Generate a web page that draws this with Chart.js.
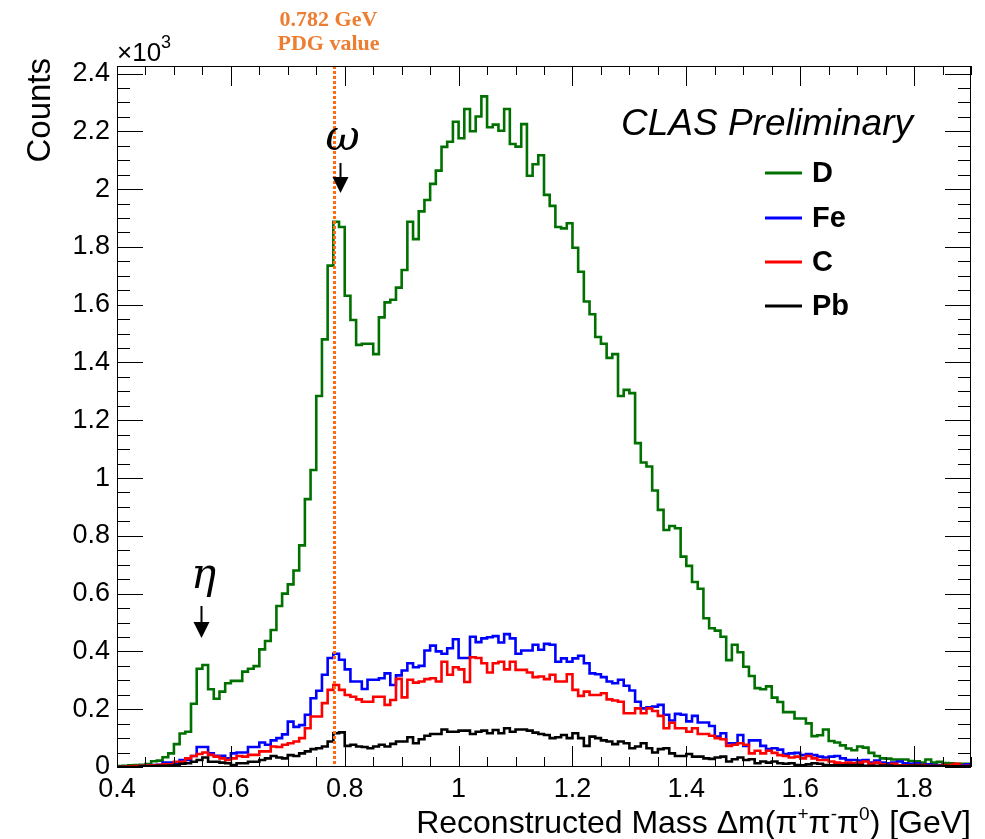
<!DOCTYPE html>
<html>
<head>
<meta charset="utf-8">
<title>Reconstructed mass of pi+ pi- pi0</title>
<script src="https://cdn.jsdelivr.net/npm/chart.js@4.4.0/dist/chart.umd.min.js"></script>
<style>
  html, body { margin: 0; padding: 0; background: #ffffff; }
  canvas { display: block; }
</style>
</head>
<body>
<canvas id="massChart" width="985" height="839"></canvas>
<script>
// Histogram binning: 150 bins of 10 MeV from 0.40 to 1.90 GeV
const binStart = 0.40;
const binWidth = 0.01;

// Counts per bin for each target
const countsD = [
  3, 4, 6, 7, 8, 10, 20, 22, 34, 47,
  79, 116, 122, 219, 340, 353, 269, 236, 261, 290,
  298, 298, 330, 340, 349, 407, 436, 474, 557, 600,
  632, 680, 767, 927, 1028, 1284, 1480, 1735, 1887, 1869,
  1631, 1547, 1461, 1465, 1465, 1429, 1556, 1608, 1617, 1659,
  1720, 1887, 1827, 1923, 1962, 2018, 2064, 2146, 2164, 2233,
  2176, 2277, 2200, 2251, 2321, 2214, 2223, 2202, 2277, 2156,
  2147, 2225, 2046, 2086, 2117, 1980, 1942, 1869, 1864, 1882,
  1797, 1714, 1611, 1567, 1488, 1465, 1416, 1429, 1284, 1305,
  1294, 1121, 1054, 1040, 957, 890, 820, 834, 826, 728,
  696, 640, 617, 515, 480, 472, 451, 370, 423, 397,
  347, 315, 273, 269, 279, 240, 225, 190, 190, 168,
  168, 151, 107, 110, 130, 90, 85, 75, 64, 58,
  71, 67, 49, 38, 30, 29, 26, 26, 26, 21,
  20, 15, 26, 15, 18, 14, 13, 11, 11, 11
];
const countsFe = [
  0, 0, 2, 2, 3, 4, 7, 8, 15, 15,
  13, 24, 24, 38, 69, 69, 47, 39, 39, 30,
  47, 50, 50, 69, 69, 85, 77, 92, 100, 113,
  157, 139, 145, 181, 238, 264, 319, 377, 392, 371,
  338, 296, 296, 270, 302, 302, 307, 324, 284, 317,
  334, 359, 345, 350, 403, 420, 400, 392, 411, 442,
  377, 377, 451, 432, 445, 449, 453, 431, 460, 445,
  392, 403, 403, 423, 406, 426, 423, 364, 376, 364,
  376, 385, 359, 324, 321, 311, 296, 290, 302, 281,
  265, 226, 203, 207, 209, 215, 181, 161, 184, 181,
  158, 177, 154, 154, 142, 105, 117, 82, 82, 111,
  73, 92, 92, 73, 62, 65, 60, 45, 47, 49,
  41, 45, 41, 36, 33, 36, 38, 30, 24, 24,
  22, 24, 15, 22, 15, 13, 15, 19, 13, 11,
  13, 7, 9, 7, 7, 6, 4, 3, 6, 9
];
const countsC = [
  0, 1, 2, 3, 4, 5, 6, 7, 9, 9,
  18, 18, 30, 38, 45, 50, 42, 36, 30, 24,
  30, 38, 36, 42, 42, 54, 54, 71, 69, 77,
  82, 88, 100, 134, 175, 175, 221, 267, 284, 267,
  249, 243, 234, 226, 226, 243, 243, 215, 232, 305,
  241, 302, 292, 296, 304, 307, 296, 364, 319, 345,
  338, 294, 380, 377, 359, 327, 359, 364, 338, 364,
  336, 336, 327, 311, 313, 304, 319, 296, 296, 321,
  267, 246, 261, 249, 249, 255, 234, 230, 226, 186,
  186, 203, 186, 203, 194, 177, 134, 153, 134, 134,
  122, 134, 114, 114, 108, 100, 96, 73, 77, 82,
  77, 47, 56, 47, 56, 49, 41, 38, 33, 36,
  30, 38, 30, 24, 24, 19, 15, 13, 15, 13,
  15, 19, 11, 15, 9, 7, 11, 6, 6, 6,
  7, 7, 4, 4, 4, 7, 7, 11, 3, 4
];
const countsPb = [
  0, 0, 0, 0, 2, 2, 3, 4, 4, 5,
  7, 11, 13, 18, 24, 33, 18, 18, 15, 13,
  7, 13, 13, 18, 18, 24, 30, 38, 33, 30,
  41, 38, 47, 54, 62, 65, 71, 88, 117, 120,
  73, 77, 71, 69, 65, 71, 77, 71, 80, 88,
  88, 103, 82, 96, 108, 114, 114, 130, 122, 122,
  126, 126, 114, 122, 126, 117, 128, 117, 134, 122,
  130, 130, 126, 119, 114, 111, 100, 103, 111, 100,
  117, 100, 73, 105, 100, 92, 88, 79, 88, 82,
  65, 71, 82, 65, 50, 62, 65, 47, 38, 38,
  45, 36, 36, 30, 28, 33, 36, 19, 27, 33,
  24, 27, 13, 19, 15, 19, 13, 11, 13, 7,
  6, 9, 13, 11, 7, 6, 6, 6, 7, 7,
  7, 4, 4, 4, 5, 5, 3, 3, 3, 4,
  4, 4, 3, 3, 3, 3, 2, 2, 2, 2
];

const seriesNames = ['D', 'Fe', 'C', 'Pb'];
const seriesColors = ['#007000', '#0000ff', '#ff0000', '#000000'];

// Axis ranges and tick labels
const xMin = 0.4, xMax = 1.9;
const yMin = 0, yMax = 2426;
const xTickValues = [0.4, 0.6, 0.8, 1.0, 1.2, 1.4, 1.6, 1.8];
const xTickLabels = ['0.4', '0.6', '0.8', '1', '1.2', '1.4', '1.6', '1.8'];
const yTickValues = [0, 200, 400, 600, 800, 1000, 1200, 1400, 1600, 1800, 2000, 2200, 2400];
const yTickLabels = ['0', '0.2', '0.4', '0.6', '0.8', '1', '1.2', '1.4', '1.6', '1.8', '2', '2.2', '2.4'];
const xMinorStep = 0.05;
const yMinorStep = 50;

// Reference mass and resonance markers
const pdgOmegaMass = 0.782;
const etaMarkerMass = 0.548;
const omegaMarkerMass = 0.792;

const SANS = '"Liberation Sans", Arial, Helvetica, sans-serif';

function histogramPoints(counts) {
  const pts = counts.map((c, i) => ({ x: binStart + i * binWidth, y: c }));
  pts.push({ x: binStart + counts.length * binWidth, y: counts[counts.length - 1] });
  return pts;
}

const allCounts = [countsD, countsFe, countsC, countsPb];
const datasets = allCounts.map((counts, k) => ({
  label: seriesNames[k],
  data: histogramPoints(counts),
  borderColor: seriesColors[k],
  backgroundColor: seriesColors[k],
  borderWidth: 2.6,
  stepped: 'before',
  pointRadius: 0,
  fill: false,
  borderJoinStyle: 'miter',
  borderCapStyle: 'butt',
  order: allCounts.length - k
}));

// Frame, inward ticks, PDG marker line
const frameAndTicks = {
  id: 'frameAndTicks',
  afterDatasetsDraw(chart) {
    const { ctx, chartArea: a, scales: { x, y } } = chart;
    ctx.save();

    // dotted PDG line
    const px = Math.round(x.getPixelForValue(pdgOmegaMass)) + 0.5;
    ctx.strokeStyle = '#ff6a13';
    ctx.lineWidth = 3;
    ctx.setLineDash([3, 2]);
    ctx.beginPath();
    ctx.moveTo(px, a.top);
    ctx.lineTo(px, a.bottom);
    ctx.stroke();
    ctx.setLineDash([]);

    ctx.strokeStyle = '#000';
    ctx.lineWidth = 1;
    ctx.strokeRect(a.left + 0.5, a.top + 0.5, a.right - a.left - 1, a.bottom - a.top - 1);

    ctx.beginPath();
    // x ticks, bottom and top
    const nx = Math.round((xMax - xMin) / xMinorStep);
    for (let i = 0; i <= nx; i++) {
      const v = xMin + i * xMinorStep;
      const major = xTickValues.some(t => Math.abs(t - v) < 1e-6);
      const p = Math.round(x.getPixelForValue(v)) + 0.5;
      const lenB = major ? 21 : 10;
      const lenT = major ? 20 : 9;
      ctx.moveTo(p, a.bottom);
      ctx.lineTo(p, a.bottom - lenB);
      ctx.moveTo(p, a.top);
      ctx.lineTo(p, a.top + lenT);
    }
    // y ticks, left and right
    for (let v = yMin; v <= yMax; v += yMinorStep) {
      const major = yTickValues.includes(v);
      const p = Math.round(y.getPixelForValue(v)) + 0.5;
      const len = major ? 26 : 13;
      ctx.moveTo(a.left, p);
      ctx.lineTo(a.left + len, p);
      ctx.moveTo(a.right, p);
      ctx.lineTo(a.right - len, p);
    }
    ctx.stroke();
    ctx.restore();
  }
};

function drawRich(ctx, parts, xRight, baseline, size, font) {
  let total = 0;
  const widths = parts.map(p => {
    ctx.font = (p.sup ? Math.round(size * 0.6) : size) + 'px ' + font;
    const w = ctx.measureText(p.t).width;
    total += w;
    return w;
  });
  let cx = xRight - total;
  parts.forEach((p, i) => {
    ctx.font = (p.sup ? Math.round(size * 0.6) : size) + 'px ' + font;
    ctx.fillText(p.t, cx, p.sup ? baseline - size * 0.42 : baseline);
    cx += widths[i];
  });
}

function drawArrow(ctx, xp, yTop, yTip) {
  ctx.strokeStyle = '#000';
  ctx.fillStyle = '#000';
  ctx.lineWidth = 2;
  ctx.beginPath();
  ctx.moveTo(xp, yTop);
  ctx.lineTo(xp, yTip - 10);
  ctx.stroke();
  ctx.beginPath();
  ctx.moveTo(xp - 8, yTip - 16);
  ctx.lineTo(xp + 8, yTip - 16);
  ctx.lineTo(xp, yTip);
  ctx.closePath();
  ctx.fill();
}

const annotations = {
  id: 'annotations',
  afterDraw(chart) {
    const { ctx, chartArea: a, scales: { x, y } } = chart;
    ctx.save();
    ctx.fillStyle = '#000';
    ctx.textBaseline = 'alphabetic';

    // axis titles
    ctx.textAlign = 'left';
    drawRich(ctx, [
      { t: 'Reconstructed Mass \u0394m(\u03c0' }, { t: '+', sup: true },
      { t: '\u03c0' }, { t: '-', sup: true },
      { t: '\u03c0' }, { t: '0', sup: true },
      { t: ') [GeV]' }
    ], a.right, 833, 32, SANS);

    ctx.save();
    ctx.translate(50, 58);
    ctx.rotate(-Math.PI / 2);
    ctx.textAlign = 'right';
    ctx.font = '33px ' + SANS;
    ctx.fillText('Counts', 0, 0);
    ctx.restore();

    // exponent of the y axis
    ctx.textAlign = 'left';
    ctx.font = '26px ' + SANS;
    ctx.fillText('\u00d710', a.left, 61);
    const w10 = ctx.measureText('\u00d710').width;
    ctx.font = '18px ' + SANS;
    ctx.fillText('3', a.left + w10, 48);

    // PDG label
    ctx.fillStyle = '#ed7d31';
    ctx.textAlign = 'center';
    ctx.font = 'bold 22px "Liberation Serif", "DejaVu Serif", serif';
    const pdgX = x.getPixelForValue(pdgOmegaMass) - 6;
    ctx.fillText('0.782 GeV', pdgX, 26);
    ctx.fillText('PDG value', pdgX, 50);

    // experiment label
    ctx.fillStyle = '#000';
    ctx.textAlign = 'left';
    ctx.font = 'italic 37px ' + SANS;
    ctx.fillText('CLAS Preliminary', 621, 135);

    // legend
    ctx.font = 'bold 29px ' + SANS;
    const legendY = [173, 218, 262, 306];
    seriesNames.forEach((name, k) => {
      ctx.strokeStyle = seriesColors[k];
      ctx.lineWidth = 3;
      ctx.beginPath();
      ctx.moveTo(765, legendY[k]);
      ctx.lineTo(802, legendY[k]);
      ctx.stroke();
      ctx.fillStyle = '#000';
      ctx.textBaseline = 'middle';
      ctx.fillText(name, 812, legendY[k] + 1);
    });
    ctx.textBaseline = 'alphabetic';

    // resonance markers
    ctx.font = 'italic 42px "DejaVu Serif", "Liberation Serif", serif';
    ctx.textAlign = 'center';
    const ex = Math.round(x.getPixelForValue(etaMarkerMass)) + 0.5;
    ctx.fillText('\u03b7', ex + 2, 588);
    drawArrow(ctx, ex, 606, 638);
    const ox = Math.round(x.getPixelForValue(omegaMarkerMass)) + 0.5;
    ctx.fillText('\u03c9', ox + 2, 150);
    drawArrow(ctx, ox, 163, 193);

    ctx.restore();
  }
};

new Chart(document.getElementById('massChart'), {
  type: 'line',
  data: { datasets },
  options: {
    responsive: false,
    animation: false,
    devicePixelRatio: 1,
    layout: { padding: { top: 66, right: 14, left: 0, bottom: 0 } },
    plugins: { legend: { display: false }, tooltip: { enabled: false } },
    scales: {
      x: {
        type: 'linear',
        min: xMin,
        max: xMax,
        grid: { display: false, drawTicks: false },
        border: { display: false },
        afterFit(scale) { scale.height = 72; },
        afterBuildTicks(scale) { scale.ticks = xTickValues.map(v => ({ value: v })); },
        ticks: {
          autoSkip: false,
          maxRotation: 0,
          padding: 6,
          color: '#000',
          font: { family: SANS, size: 27 },
          callback: (v) => xTickLabels[xTickValues.findIndex(t => Math.abs(t - v) < 1e-6)]
        }
      },
      y: {
        type: 'linear',
        min: yMin,
        max: yMax,
        grid: { display: false, drawTicks: false },
        border: { display: false },
        afterFit(scale) { scale.width = 117; },
        afterBuildTicks(scale) { scale.ticks = yTickValues.map(v => ({ value: v })); },
        ticks: {
          autoSkip: false,
          padding: 7,
          color: '#000',
          font: { family: SANS, size: 27 },
          callback: (v) => yTickLabels[yTickValues.indexOf(v)]
        }
      }
    }
  },
  plugins: [frameAndTicks, annotations]
});
</script>
</body>
</html>
